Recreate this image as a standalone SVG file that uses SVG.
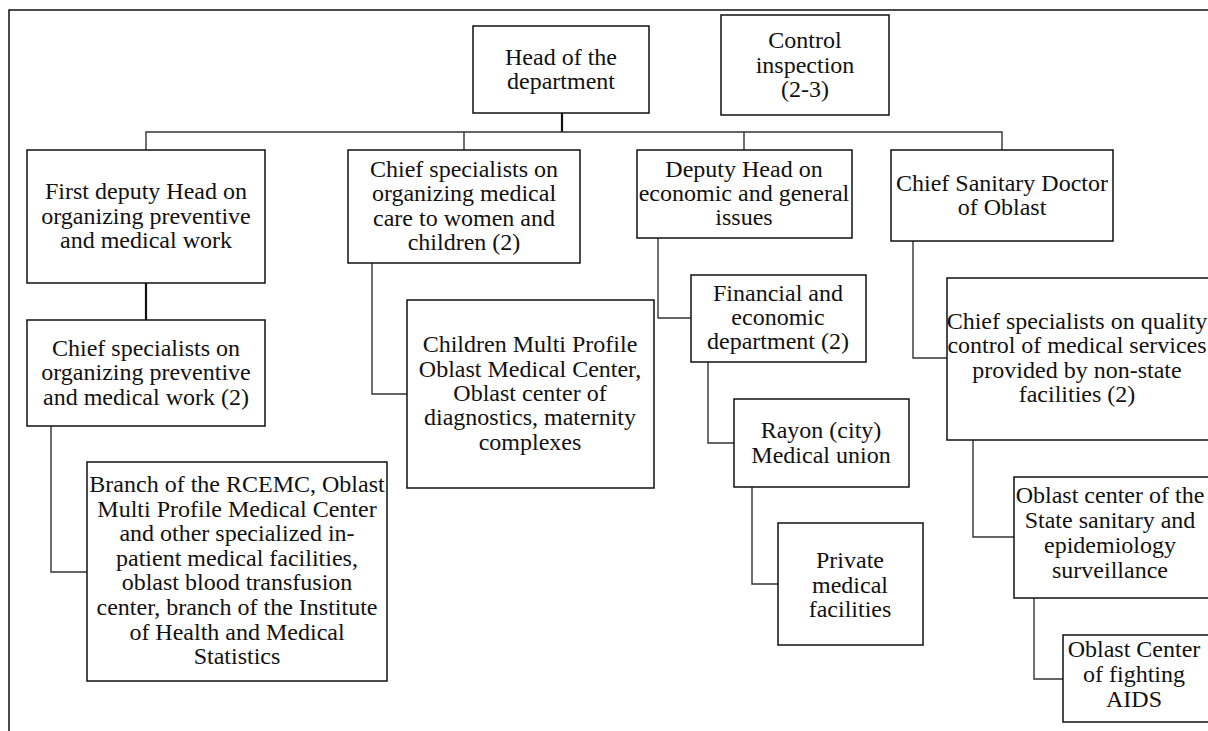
<svg xmlns="http://www.w3.org/2000/svg" width="1208" height="731" viewBox="0 0 1208 731">
<style>
.box{fill:#fff;stroke:#111;stroke-width:1.5}
.c{fill:none;stroke:#333;stroke-width:1.4}
.t{stroke:#111;stroke-width:2.2;fill:none}
text{font-family:"Liberation Serif","Times New Roman",serif;font-size:24px;fill:#111;text-anchor:middle}
</style>
<rect x="0" y="0" width="1208" height="731" fill="#fff"/>
<path d="M9,731 V10 H1208" fill="none" stroke="#111" stroke-width="1.5"/>
<g id="connectors">
<path class="t" d="M562,113 V132"/>
<path class="c" d="M146,150 V132 H1002 V150"/>
<path class="c" d="M464,132 V150"/>
<path class="c" d="M744,132 V150"/>
<path class="t" d="M146,283 V320"/>
<path class="c" d="M51,426 V572 H87"/>
<path class="c" d="M372,263 V394 H407"/>
<path class="c" d="M658,238 V318 H691"/>
<path class="c" d="M708,362 V443 H734"/>
<path class="c" d="M752,487 V584 H778"/>
<path class="c" d="M913,241 V358 H947"/>
<path class="c" d="M973,440 V537 H1014"/>
<path class="c" d="M1034,598 V679 H1063"/>
</g>
<g id="head"><rect class="box" x="473" y="26" width="176" height="87"/>
<text x="561" y="65">Head of the</text><text x="561" y="89">department</text></g>
<g id="control"><rect class="box" x="721" y="15" width="168" height="100"/>
<text x="805" y="48">Control</text><text x="805" y="73">inspection</text><text x="805" y="97">(2-3)</text></g>
<g id="first-deputy"><rect class="box" x="27" y="150" width="238" height="133"/>
<text x="146" y="199">First deputy Head on</text><text x="146" y="224">organizing preventive</text><text x="146" y="248">and medical work</text></g>
<g id="chief-women"><rect class="box" x="348" y="150" width="232" height="113"/>
<text x="464" y="177">Chief specialists on</text><text x="464" y="201">organizing medical</text><text x="464" y="226">care to women and</text><text x="464" y="250">children (2)</text></g>
<g id="deputy-economic"><rect class="box" x="637" y="150" width="215" height="88"/>
<text x="744" y="177">Deputy Head on</text><text x="744" y="201">economic and general</text><text x="744" y="225">issues</text></g>
<g id="sanitary"><rect class="box" x="891" y="150" width="222" height="91"/>
<text x="1002" y="191">Chief Sanitary Doctor</text><text x="1002" y="215">of Oblast</text></g>
<g id="chief-preventive"><rect class="box" x="27" y="320" width="238" height="106"/>
<text x="146" y="356">Chief specialists on</text><text x="146" y="380">organizing preventive</text><text x="146" y="405">and medical work (2)</text></g>
<g id="branch"><rect class="box" x="87" y="462" width="300" height="219"/>
<text x="237" y="492">Branch of the RCEMC, Oblast</text><text x="237" y="517">Multi Profile Medical Center</text><text x="237" y="541">and other specialized in-</text><text x="237" y="566">patient medical facilities,</text><text x="237" y="590">oblast blood transfusion</text><text x="237" y="615">center, branch of the Institute</text><text x="237" y="640">of Health and Medical</text><text x="237" y="664">Statistics</text></g>
<g id="children"><rect class="box" x="407" y="300" width="247" height="188"/>
<text x="530" y="352">Children Multi Profile</text><text x="530" y="377">Oblast Medical Center,</text><text x="530" y="401">Oblast center of</text><text x="530" y="425">diagnostics, maternity</text><text x="530" y="450">complexes</text></g>
<g id="financial"><rect class="box" x="691" y="275" width="175" height="87"/>
<text x="778" y="301">Financial and</text><text x="778" y="325">economic</text><text x="778" y="349">department (2)</text></g>
<g id="rayon"><rect class="box" x="734" y="399" width="175" height="88"/>
<text x="821" y="438">Rayon (city)</text><text x="821" y="463">Medical union</text></g>
<g id="private"><rect class="box" x="778" y="523" width="145" height="122"/>
<text x="850" y="568">Private</text><text x="850" y="593">medical</text><text x="850" y="617">facilities</text></g>
<g id="quality"><rect class="box" x="947" y="278" width="272" height="162"/>
<text x="1077" y="329">Chief specialists on quality</text><text x="1077" y="353">control of medical services</text><text x="1077" y="378">provided by non-state</text><text x="1077" y="402">facilities (2)</text></g>
<g id="sanepid"><rect class="box" x="1014" y="477" width="200" height="121"/>
<text x="1110" y="503">Oblast center of the</text><text x="1110" y="528">State sanitary and</text><text x="1110" y="553">epidemiology</text><text x="1110" y="578">surveillance</text></g>
<g id="aids"><rect class="box" x="1063" y="635" width="150" height="87"/>
<text x="1134" y="657">Oblast Center</text><text x="1134" y="682">of fighting</text><text x="1134" y="707">AIDS</text></g>
</svg>
